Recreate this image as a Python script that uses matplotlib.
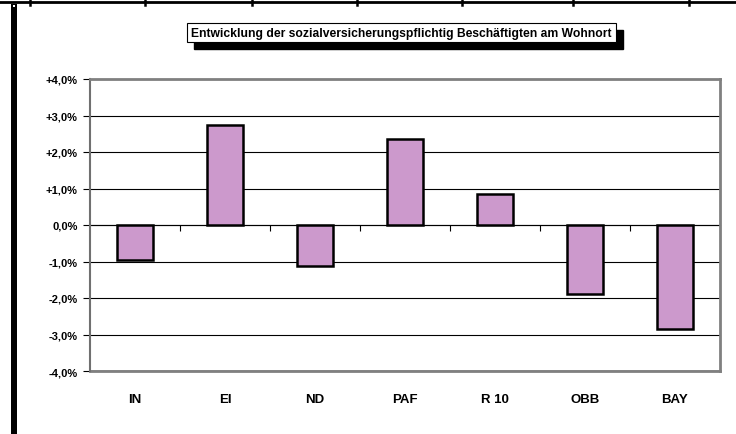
import matplotlib
matplotlib.use("Agg")
import matplotlib.pyplot as plt
from matplotlib.patches import Rectangle
from matplotlib.lines import Line2D

# --- data -----------------------------------------------------------------
regions = ["IN", "EI", "ND", "PAF", "R 10", "OBB", "BAY"]
changes = [-0.96, 2.75, -1.13, 2.36, 0.85, -1.89, -2.85]   # percent
y_ticks = [-4, -3, -2, -1, 0, 1, 2, 3, 4]
title = "Entwicklung der sozialversicherungspflichtig Beschäftigten am Wohnort"

W, H = 736, 435
plt.rcParams["font.family"] = ["Liberation Sans", "DejaVu Sans"]

fig = plt.figure(figsize=(W / 100, H / 100), dpi=100)


def px(x0, y0):
    # pixel coords (top-left origin) -> figure fraction
    return x0 / W, 1 - y0 / H


# plot area
left, right, top, bottom = 90, 720, 80, 372
ax = fig.add_axes([left / W, 1 - bottom / H, (right - left) / W, (bottom - top) / H])

x = list(range(len(regions)))
ax.bar(x, changes, width=0.41, color="#cc99cc", edgecolor="black",
       linewidth=1.8, zorder=3)

ax.set_xlim(-0.5, len(regions) - 0.5)
ax.set_ylim(-4, 4)

# gridlines
for v in y_ticks:
    ax.axhline(v, color="black", linewidth=0.8, zorder=1)

ax.set_yticks(y_ticks)
ax.set_yticklabels(["0,0%" if v == 0 else "%+d,0%%" % v for v in y_ticks],
                   fontsize=8, fontweight="bold")
ax.tick_params(axis="y", direction="out", length=5, width=0.8, pad=4)

# category axis sits on the zero line, ticks between categories
ax.spines["bottom"].set_position(("data", 0))
ax.spines["bottom"].set_color("black")
ax.spines["bottom"].set_linewidth(0.8)
ax.spines["bottom"].set_zorder(2)
ax.set_xticks([i + 0.5 for i in x[:-1]])
ax.set_xticklabels([])
ax.tick_params(axis="x", direction="out", length=4, width=0.8)

# category labels on the bottom of the plot area
sec = ax.secondary_xaxis("bottom")
sec.set_xticks(x)
sec.set_xticklabels(regions, fontsize=9.5, fontweight="bold")
sec.tick_params(length=0, pad=16)
sec.spines["bottom"].set_color("#808080")
sec.spines["bottom"].set_linewidth(2)

for s in ["top", "right"]:
    ax.spines[s].set_color("#808080")
    ax.spines[s].set_linewidth(2)
ax.spines["left"].set_color("#707070")
ax.spines["left"].set_linewidth(1.5)

# title box with shadow
bx0, by0, bx1, by1 = 187, 24, 616, 43
sh = 7
fx, fy = px(bx0 + sh, by1 + sh)
fw = (bx1 - bx0) / W
fh = (by1 - by0) / H
fig.patches.append(Rectangle((fx, fy), fw, fh, transform=fig.transFigure,
                             facecolor="black", edgecolor="black", zorder=1))
fx, fy = px(bx0, by1)
fig.patches.append(Rectangle((fx, fy), fw, fh, transform=fig.transFigure,
                             facecolor="white", edgecolor="black",
                             linewidth=0.8, zorder=2))
tx, ty = px((bx0 + bx1) / 2, (by0 + by1) / 2)
fig.text(tx, ty, title, ha="center", va="center", fontsize=8.7,
         fontweight="bold", zorder=3)

# frame remnants: top line with ticks, thick left bar
fig.lines.append(Line2D([0, 1], [1 - 2.5 / H] * 2, transform=fig.transFigure,
                        color="black", linewidth=2))
for t in [30, 145, 252, 357, 462, 573, 689]:
    fig.lines.append(Line2D([t / W] * 2, [1, 1 - 6 / H],
                            transform=fig.transFigure, color="black",
                            linewidth=1.8))
fx, fy = px(11, H)
fig.patches.append(Rectangle((fx, fy), 5.5 / W, (H - 5) / H,
                             transform=fig.transFigure, facecolor="black",
                             edgecolor="none"))
fx, fy = px(12.5, 8)
fig.patches.append(Rectangle((fx, fy), 2.5 / W, 2.5 / H,
                             transform=fig.transFigure, facecolor="white",
                             edgecolor="none"))

fig.savefig("out.png", dpi=100)
